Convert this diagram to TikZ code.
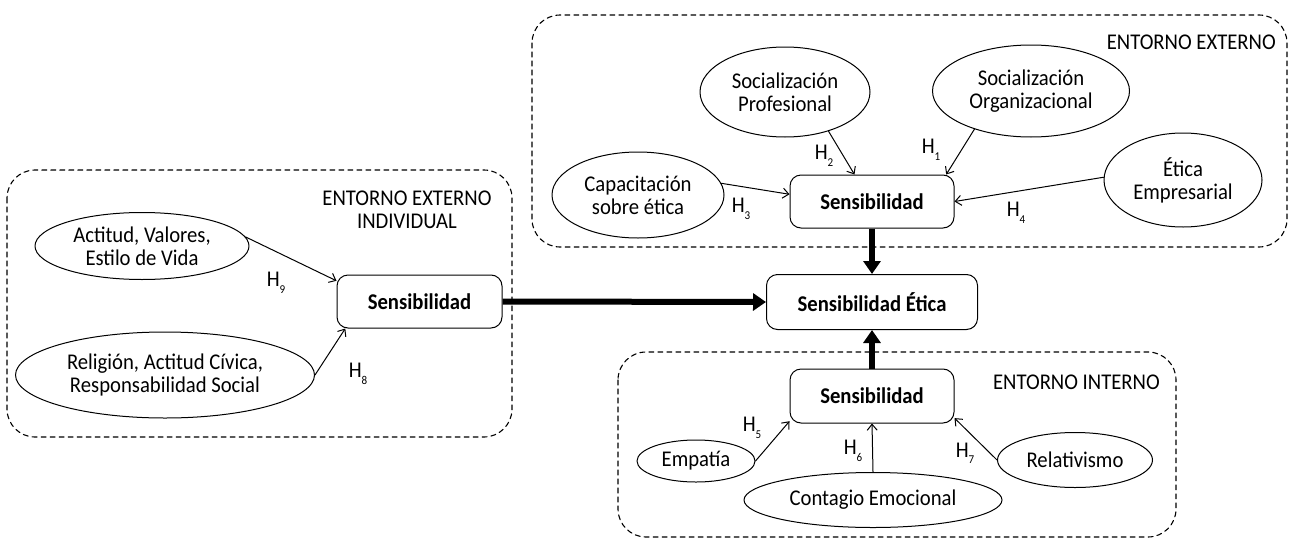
\documentclass[tikz,border=0pt]{standalone}
\usepackage{fontspec}
\setmainfont{Carlito}[FakeStretch=0.92]
\usetikzlibrary{shapes.geometric,arrows.meta}
\newcommand{\hsub}[1]{H\raisebox{-0.6ex}{\fontsize{12}{12}\selectfont #1}}

\begin{document}
\begin{tikzpicture}[x=1pt,y=-1pt,line cap=round,line join=round,
    font=\fontsize{22.5}{23}\selectfont,
    factor/.style={draw,ellipse,inner sep=0pt,align=center,line width=1pt},
    sens/.style={draw,rectangle,rounded corners=11pt,inner sep=0pt,minimum width=164pt,minimum height=53pt,font=\fontsize{22.5}{23}\selectfont\bfseries,line width=1pt},
    envbox/.style={dash pattern=on 5pt off 4pt,rounded corners=28pt,line width=1.1pt},
    hyp/.style={-{Straight Barb[length=6pt,width=10pt]},line width=1pt},
    big/.style={-{Triangle[length=13pt,width=17pt]},line width=6pt,line cap=butt},
    hlab/.style={inner sep=0pt}]
		\useasboundingbox (0,0) rectangle (1289,538);
		\draw[envbox] (7,170) rectangle (512,437);
		\draw[envbox] (532,15) rectangle (1287,247);
		\draw[envbox] (618,352) rectangle (1176,537);
		\node[align=center] (lblIndiv) at (407,210) {ENTORNO EXTERNO\\INDIVIDUAL};
		\node[anchor=east,inner sep=0pt] (lblExt) at (1276,42) {ENTORNO EXTERNO};
		\node[anchor=east,inner sep=0pt] (lblInt) at (1160,382) {ENTORNO INTERNO};
		\node[factor,minimum width=214pt,minimum height=67pt] (actitud) at (142,246) {Actitud, Valores,\\Estilo de Vida};
		\node[factor,minimum width=299pt,minimum height=86pt] (religion) at (165,375) {Religión, Actitud Cívica,\\Responsabilidad Social};
		\node[sens,minimum width=165pt] (sensL) at (419.5,301.5) {Sensibilidad};
		\node[sens,minimum width=211pt,minimum height=55pt] (etica) at (872,302) {Sensibilidad Ética};
		\node[sens] (sensE) at (872,201.5) {Sensibilidad};
		\node[sens,minimum height=54pt] (sensI) at (872,396) {Sensibilidad};
		\node[factor,minimum width=172pt,minimum height=86pt] (capac) at (638,195) {Capacitación\\sobre ética};
		\node[factor,minimum width=170pt,minimum height=90pt] (profes) at (785,92) {Socialización\\Profesional};
		\node[factor,minimum width=197pt,minimum height=92pt] (organ) at (1031,91) {Socialización\\Organizacional};
		\node[factor,minimum width=158pt,minimum height=94pt] (empres) at (1183,180) {Ética\\Empresarial};
		\node[factor,minimum width=118pt,minimum height=42pt] (empatia) at (696,461) {Empatía};
		\node[factor,minimum width=258pt,minimum height=55pt] (contagio) at (873,500) {Contagio Emocional};
		\node[factor,minimum width=155pt,minimum height=55pt] (relat) at (1075,460) {Relativismo};
		\draw[hyp] (actitud.5) -- (sensL.166);
		\draw[hyp] (religion.east) -- (sensL.200);
		\draw[hyp] (capac.8) -- (sensE.175);
		\draw[hyp] (profes.-42) -- (sensE.123);
		\draw[hyp] (organ.214) -- (sensE.20);
		\draw[hyp] (empres.178) -- (sensE.east);
		\draw[hyp] (empatia.east) -- (sensI.197);
		\draw[hyp] (contagio.north) -- (sensI.south);
		\draw[hyp] (relat.west) -- (sensI.-15);
		\draw[big] (sensL.east) -- (etica.west);
		\draw[big] (sensE.south) -- (etica.north);
		\draw[big] (sensI.north) -- (etica.south);
		\node[hlab] (h1) at (931,150) {\hsub{1}};
		\node[hlab] (h2) at (824,156) {\hsub{2}};
		\node[hlab] (h3) at (741,209) {\hsub{3}};
		\node[hlab] (h4) at (1016,213) {\hsub{4}};
		\node[hlab] (h5) at (752,428) {\hsub{5}};
		\node[hlab] (h6) at (853,451) {\hsub{6}};
		\node[hlab] (h7) at (965,453) {\hsub{7}};
		\node[hlab] (h8) at (358,374) {\hsub{8}};
		\node[hlab] (h9) at (276,283) {\hsub{9}};
	\end{tikzpicture}
\end{document}
